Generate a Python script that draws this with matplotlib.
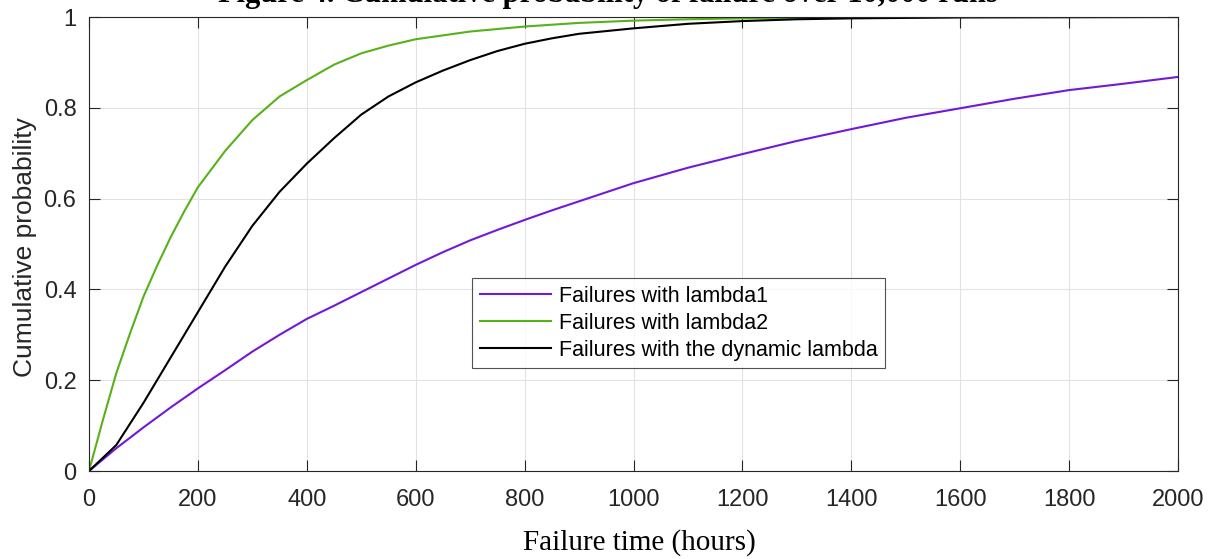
import matplotlib
matplotlib.use("Agg")
import matplotlib.pyplot as plt
import numpy as np

# values
t1 = [0, 50, 100, 150, 200, 250, 300, 350, 400, 450, 500, 550, 600, 650, 700,
      750, 800, 850, 900, 950, 1000, 1100, 1200, 1300, 1400, 1500, 1600, 1700,
      1800, 1900, 2000]
p1 = [0, 0.05, 0.096, 0.14, 0.182, 0.222, 0.263, 0.30, 0.335, 0.364, 0.394,
      0.424, 0.454, 0.482, 0.508, 0.531, 0.553, 0.574, 0.594, 0.614, 0.634,
      0.668, 0.698, 0.727, 0.753, 0.778, 0.799, 0.82, 0.839, 0.853, 0.868]

t2 = [0, 25, 50, 75, 100, 125, 150, 175, 200, 250, 300, 350, 400, 450, 500,
      550, 600, 700, 800, 900, 1000, 1100, 1200, 1400, 1600, 2000]
p2 = [0, 0.11, 0.215, 0.302, 0.384, 0.452, 0.515, 0.572, 0.625, 0.705, 0.773,
      0.825, 0.861, 0.895, 0.92, 0.937, 0.951, 0.968, 0.979, 0.987, 0.992,
      0.995, 0.997, 0.999, 1.0, 1.0]

t3 = [0, 50, 100, 150, 200, 250, 300, 350, 400, 450, 500, 550, 600, 650, 700,
      750, 800, 850, 900, 1000, 1100, 1200, 1300, 1400, 1600, 2000]
p3 = [0, 0.057, 0.15, 0.25, 0.35, 0.45, 0.54, 0.615, 0.677, 0.733, 0.785,
      0.825, 0.856, 0.882, 0.905, 0.925, 0.941, 0.953, 0.963, 0.975, 0.985,
      0.991, 0.995, 0.997, 0.999, 1.0]

labels = ["Failures with lambda1", "Failures with lambda2",
          "Failures with the dynamic lambda"]
colors = ["#7219d8", "#57b11a", "#000000"]

fig = plt.figure(figsize=(12.18, 5.59), dpi=100)
ax = fig.add_axes([89/1218, 1 - 471/559, (1178 - 89)/1218, (471 - 17)/559])

for t, p, lab, c in zip([t1, t2, t3], [p1, p2, p3], labels, colors):
    ax.plot(t, p, color=c, lw=1.5, label=lab)

ax.set_xlim(0, 2000)
ax.set_ylim(0, 1)
ax.set_xticks(np.arange(0, 2001, 200))
ax.set_yticks([0, 0.2, 0.4, 0.6, 0.8, 1])
ax.set_yticklabels(["0", "0.2", "0.4", "0.6", "0.8", "1"])
ax.grid(True, color="#e2e2e2", lw=0.8)
ax.set_axisbelow(True)
ax.tick_params(direction="in", length=8, width=0.8, colors="#262626",
               labelsize=17, top=True, right=True)
ax.tick_params(axis="x", pad=13)
ax.tick_params(axis="y", pad=9)
for lab in ax.get_xticklabels() + ax.get_yticklabels():
    lab.set_family("Liberation Sans")
for s in ax.spines.values():
    s.set_color("#262626")
    s.set_linewidth(0.8)

fig.text(25/1218, 1 - 247/559, "Cumulative probability", rotation=90,
         ha="center", va="center", fontsize=19, family="Liberation Sans",
         color="#262626")
fig.text(639/1218, 1 - 543/559, "Failure time (hours)", ha="center", va="center",
         fontsize=21, family="Liberation Serif")
fig.text(608/1218, 1 - 2/559, "Figure 4. Cumulative probability of failure over 10,000 runs",
         ha="center", va="baseline", fontsize=22, fontweight="bold",
         family="Liberation Serif")

leg = ax.legend(loc="upper left", bbox_to_anchor=((472 - 89)/1089, (471 - 278)/454),
                prop={"family": "Liberation Sans", "size": 15.5}, frameon=True,
                fancybox=False, borderpad=0.35, handlelength=3.3, labelspacing=0.28,
                handletextpad=0.4, borderaxespad=0)
leg.get_frame().set_edgecolor("#262626")
leg.get_frame().set_linewidth(0.8)

fig.savefig("out.png", dpi=100)
